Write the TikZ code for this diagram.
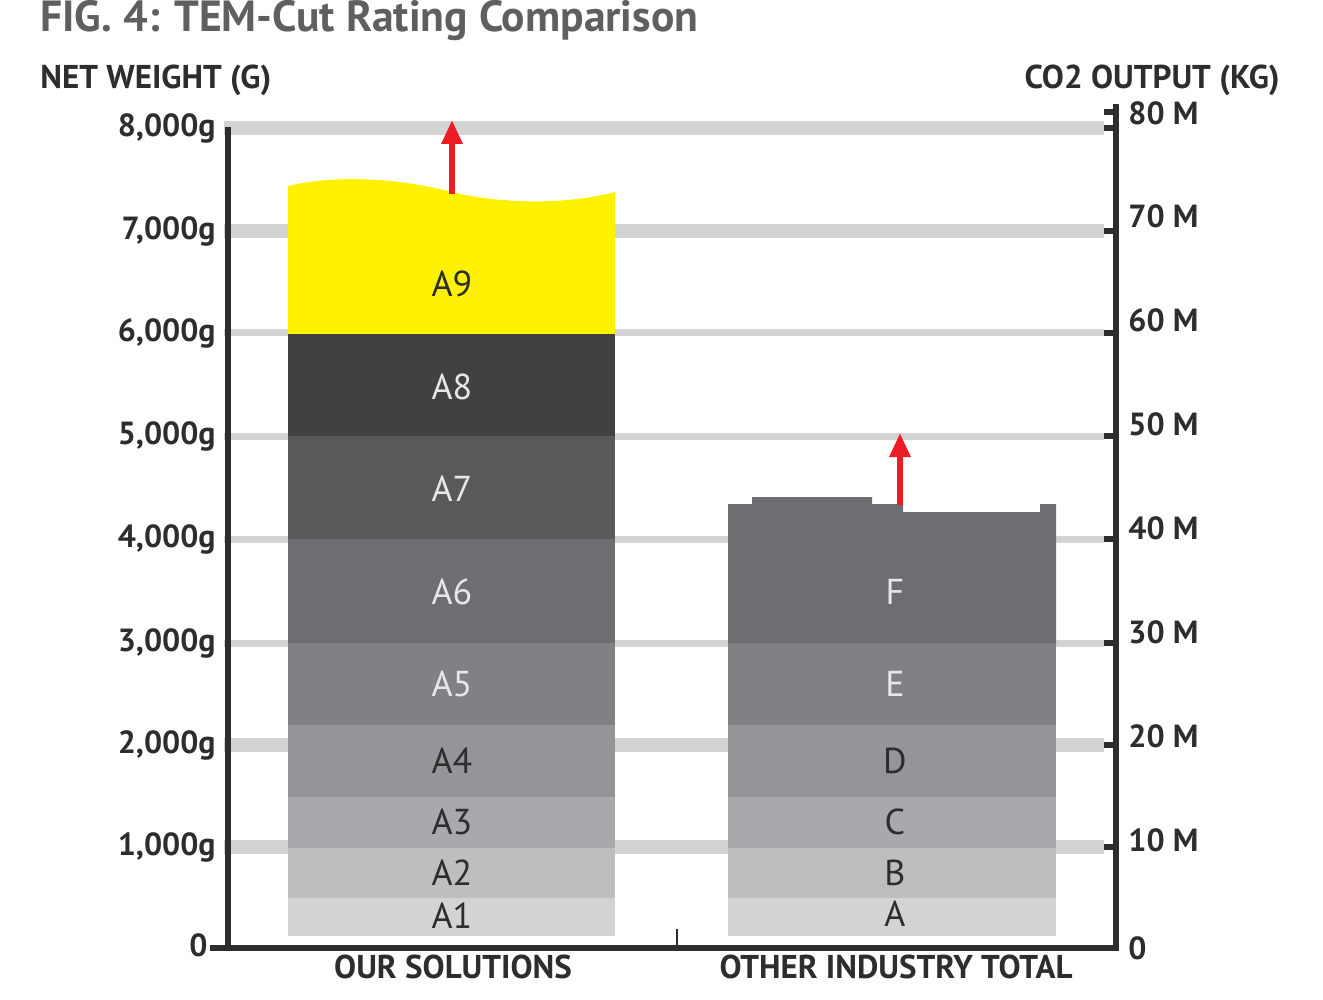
\documentclass[tikz,border=0pt]{standalone}
\usepackage{fontspec}
\setmainfont{PT Sans}
\usetikzlibrary{arrows.meta}
\definecolor{ink}{HTML}{2D2D2D}
\definecolor{titlegray}{HTML}{5E5F61}
\definecolor{grid}{HTML}{D3D3D3}
\definecolor{c1}{HTML}{D1D3D4}
\definecolor{c2}{HTML}{BCBEC0}
\definecolor{c3}{HTML}{A7A9AC}
\definecolor{c4}{HTML}{939598}
\definecolor{c5}{HTML}{808184}
\definecolor{c6}{HTML}{6D6E71}
\definecolor{c7}{HTML}{58595B}
\definecolor{c8}{HTML}{414042}
\definecolor{c9}{HTML}{FFF200}
\definecolor{lighttext}{HTML}{E6E7E8}
\definecolor{arrowred}{HTML}{ED1C24}
\begin{document}
\begin{tikzpicture}[x=0.5pt,y=-0.5pt,
  gridthick/.style={draw=grid,line width=7pt},
  gridthin/.style={draw=grid,line width=3.5pt},
  axisline/.style={draw=ink,line width=3pt},
  seglabel/.style={font=\fontsize{18}{18}\selectfont,text=ink,inner sep=0pt},
  seglight/.style={seglabel,text=lighttext},
  ticklabel/.style={font=\bfseries\fontsize{16}{16}\selectfont,text=ink,inner sep=0pt},
  header/.style={font=\bfseries\fontsize{16.5}{16.5}\selectfont,text=ink,inner sep=0pt},
  growarrow/.style={draw=arrowred,line width=3pt,-{Triangle[length=12pt,width=10pt]}}
]
\useasboundingbox (0,0) rectangle (1323,1000);

% title and headers
\node[anchor=west,inner sep=0pt,text=titlegray,font=\bfseries\fontsize{21.8}{21.8}\selectfont] (title) at (40,21) {FIG. 4: TEM-Cut Rating Comparison};
\node[header,anchor=west] (lhead) at (40,80) {NET WEIGHT (G)};
\node[header,anchor=east] (rhead) at (1280,80) {CO2 OUTPUT (KG)};

% grid lines
\foreach \y in {128,231,745,847} \draw[gridthick] (224,\y) -- (1104,\y);
\foreach \y in {333,436,539,643} \draw[gridthin] (224,\y) -- (1104,\y);

% left bar
\fill[c1] (288,898) rectangle (615,936);
\fill[c2] (288,848) rectangle (615,898);
\fill[c3] (288,797) rectangle (615,848);
\fill[c4] (288,725) rectangle (615,797);
\fill[c5] (288,643) rectangle (615,725);
\fill[c6] (288,539) rectangle (615,643);
\fill[c7] (288,436) rectangle (615,539);
\fill[c8] (288,334) rectangle (615,436);
\fill[c9] (288,334) -- (288,186) .. controls (330,176) and (390,176) .. (452,192)
   .. controls (505,205) and (570,204) .. (615,192) -- (615,334) -- cycle;

\node[seglabel] (a1) at (452,916) {A1};
\node[seglabel] (a2) at (452,873) {A2};
\node[seglabel] (a3) at (452,822) {A3};
\node[seglabel] (a4) at (452,761) {A4};
\node[seglight] (a5) at (452,684) {A5};
\node[seglight] (a6) at (452,592) {A6};
\node[seglight] (a7) at (452,489) {A7};
\node[seglight] (a8) at (452,387) {A8};
\node[seglabel] (a9) at (452,284) {A9};

% right bar
\fill[c1] (728,898) rectangle (1056,936);
\fill[c2] (728,848) rectangle (1056,898);
\fill[c3] (728,797) rectangle (1056,848);
\fill[c4] (728,725) rectangle (1056,797);
\fill[c5] (728,643) rectangle (1056,725);
\fill[c6] (728,643) -- (728,504) -- (752,504) -- (752,497) -- (872,497) -- (872,504)
   -- (903,504) -- (903,512) -- (1040,512) -- (1040,504) -- (1056,504) -- (1056,643) -- cycle;

\node[seglabel] (ra) at (895,914) {A};
\node[seglabel] (rb) at (895,873) {B};
\node[seglabel] (rc) at (895,822) {C};
\node[seglabel] (rd) at (895,761) {D};
\node[seglight] (re) at (895,684) {E};
\node[seglight] (rf) at (895,592) {F};

% arrows
\coordinate (la0) at (452,194);
\coordinate (la1) at (452,120);
\draw[growarrow] (la0) -- (la1);
\coordinate (ra0) at (900,505);
\coordinate (ra1) at (900,433);
\draw[growarrow] (ra0) -- (ra1);

% axes
\coordinate (lax0) at (228,127);
\coordinate (lax1) at (228,950);
\draw[axisline] (lax0) -- (lax1);
\coordinate (rax0) at (1116,104);
\coordinate (rax1) at (1116,950);
\draw[axisline] (rax0) -- (rax1);
\coordinate (bax0) at (210,948);
\coordinate (bax1) at (1119,948);
\draw[axisline] (bax0) -- (bax1);
\coordinate (mt0) at (677,929);
\coordinate (mt1) at (677,946);
\draw[draw=ink,line width=1pt] (mt0) -- (mt1);
\foreach \y in {112,128,231,333,436,539,643,745,847}
  \draw[draw=ink,line width=3pt] (1104,\y) -- (1116,\y);

% left tick labels
\node[ticklabel,anchor=east] (l0) at (208,945) {0};
\node[ticklabel,anchor=east] (l1) at (216,847) {1,000g};
\node[ticklabel,anchor=east] (l2) at (216,745) {2,000g};
\node[ticklabel,anchor=east] (l3) at (216,643) {3,000g};
\node[ticklabel,anchor=east] (l4) at (216,539) {4,000g};
\node[ticklabel,anchor=east] (l5) at (216,436) {5,000g};
\node[ticklabel,anchor=east] (l6) at (216,333) {6,000g};
\node[ticklabel,anchor=east] (l7) at (216,231) {7,000g};
\node[ticklabel,anchor=east] (l8) at (216,128) {8,000g};

% right tick labels
\node[ticklabel,anchor=west] (r0) at (1128,948) {0};
\node[ticklabel,anchor=west] (r1) at (1128,840) {10 M};
\node[ticklabel,anchor=west] (r2) at (1128,736) {20 M};
\node[ticklabel,anchor=west] (r3) at (1128,632) {30 M};
\node[ticklabel,anchor=west] (r4) at (1128,528) {40 M};
\node[ticklabel,anchor=west] (r5) at (1128,424) {50 M};
\node[ticklabel,anchor=west] (r6) at (1128,320) {60 M};
\node[ticklabel,anchor=west] (r7) at (1128,216) {70 M};
\node[ticklabel,anchor=west] (r8) at (1128,113) {80 M};

% category labels
\node[header] (catl) at (453,967) {OUR SOLUTIONS};
\node[header] (catr) at (896,967) {OTHER INDUSTRY TOTAL};
\end{tikzpicture}
\end{document}
